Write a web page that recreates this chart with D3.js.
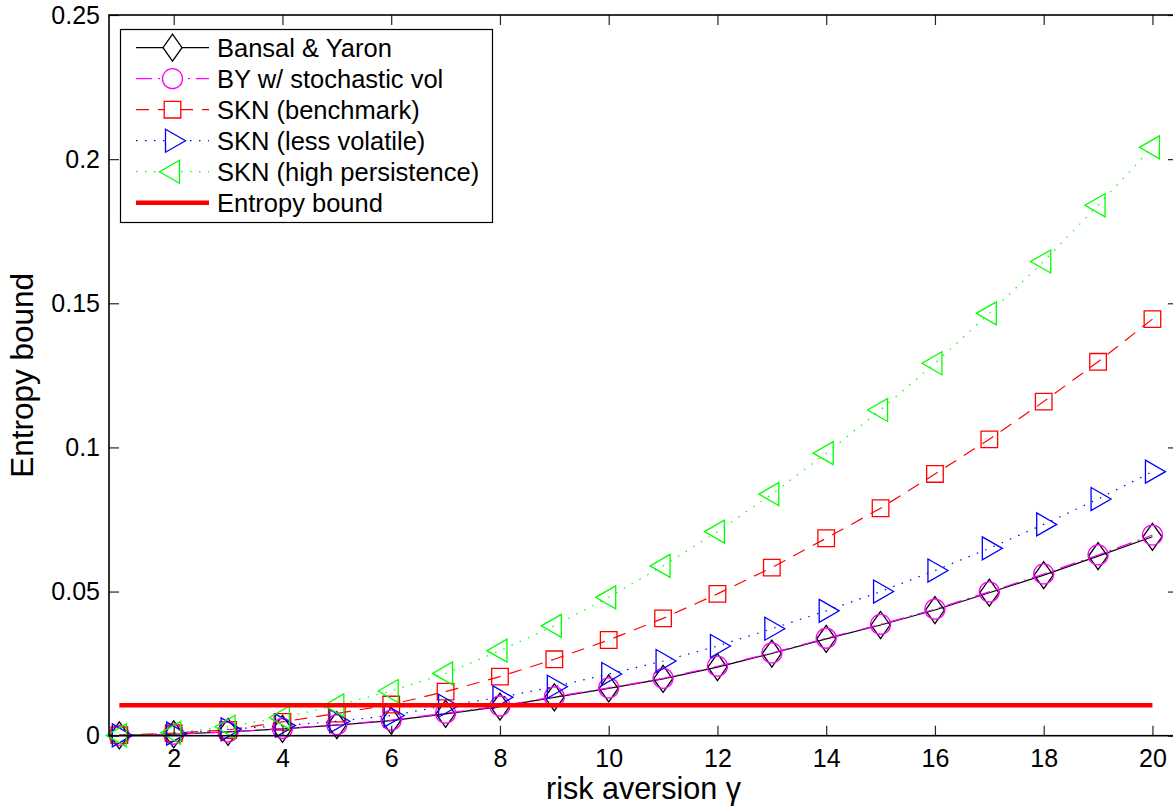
<!DOCTYPE html>
<html>
<head>
<meta charset="utf-8">
<script src="https://cdn.jsdelivr.net/npm/d3@7"></script>
<style>
  body { margin: 0; background: #fff; }
  svg { display: block; font-family: "Liberation Sans", Arial, Helvetica, sans-serif; }
</style>
</head>
<body>
<script>
var width = 1173;
var height = 808;

// risk aversion gamma
var gammas = [1, 2, 3, 4, 5, 6, 7, 8, 9, 10, 11, 12, 13, 14, 15, 16, 17, 18, 19, 20];

var bansalYaron = [0.0001, 0.0005, 0.0013, 0.0024, 0.0037, 0.0052, 0.0076, 0.0101, 0.0133, 0.0164,
                   0.0197, 0.0238, 0.0285, 0.0336, 0.0384, 0.0436, 0.0496, 0.0557, 0.0623, 0.0690];
var byStochVol = [0.0001, 0.0005, 0.0013, 0.0025, 0.0038, 0.0054, 0.0078, 0.0103, 0.0135, 0.0166,
                  0.0199, 0.0241, 0.0287, 0.0338, 0.0386, 0.0439, 0.0499, 0.0561, 0.0627, 0.0696];
var sknBenchmark = [0.0002, 0.0009, 0.0020, 0.0048, 0.0077, 0.0108, 0.0153, 0.0205, 0.0265, 0.0332,
                    0.0407, 0.0492, 0.0583, 0.0685, 0.0789, 0.0908, 0.1028, 0.1159, 0.1297, 0.1445];
var sknLessVol = [0.0001, 0.0007, 0.0022, 0.0035, 0.0050, 0.0070, 0.0104, 0.0133, 0.0170, 0.0214,
                  0.0259, 0.0311, 0.0371, 0.0433, 0.0500, 0.0573, 0.0650, 0.0733, 0.0821, 0.0916];
var sknHighPers = [0.0001, 0.0010, 0.0031, 0.0063, 0.0105, 0.0155, 0.0216, 0.0295, 0.0381, 0.0480,
                   0.0589, 0.0708, 0.0838, 0.0980, 0.1130, 0.1292, 0.1465, 0.1645, 0.1840, 0.2041];
var entropyBound = 0.0106;

var seriesNames = ['Bansal & Yaron', 'BY w/ stochastic vol', 'SKN (benchmark)',
                   'SKN (less volatile)', 'SKN (high persistence)', 'Entropy bound'];

var xTicks = [2, 4, 6, 8, 10, 12, 14, 16, 18, 20];
var yTicks = [0, 0.05, 0.1, 0.15, 0.2, 0.25];
var yTickLabels = ['0', '0.05', '0.1', '0.15', '0.2', '0.25'];

// marker shapes
function diamond() { return 'M0,-13.5L9.5,0L0,13.5L-9.5,0Z'; }
function circle() { return 'M10,0A10,10 0 1,1 -10,0A10,10 0 1,1 10,0Z'; }
function square() { return 'M-8.3,-8.3H8.3V8.3H-8.3Z'; }
function triRight() { return 'M-7,-11.5L13,0L-7,11.5Z'; }
function triLeft() { return 'M7,-11.5L-13,0L7,11.5Z'; }

var series = [
  { name: seriesNames[0], values: bansalYaron, color: '#000000', dash: null, marker: diamond },
  { name: seriesNames[1], values: byStochVol, color: '#ff00ff', dash: '16,6,2,6', marker: circle },
  { name: seriesNames[2], values: sknBenchmark, color: '#ff0000', dash: '13,9', marker: square },
  { name: seriesNames[3], values: sknLessVol, color: '#0000ff', dash: '1.5,7.5', marker: triRight },
  { name: seriesNames[4], values: sknHighPers, color: '#00ff00', dash: '1.5,7.5', marker: triLeft }
];

var x = d3.scaleLinear().domain([0.81, 20.47]).range([109, 1178]);
var y = d3.scaleLinear().domain([0, 0.25]).range([735.7, 15]);

var svg = d3.select('body')
            .append('svg')
            .attr('width', width)
            .attr('height', height);

var line = d3.line()
             .x(function(d, i){ return x(gammas[i]); })
             .y(function(d){ return y(d); });

var plots = svg.selectAll('g.series')
               .data(series)
               .enter()
               .append('g')
               .attr('class', 'series');

plots.append('path')
     .attr('d', function(d){ return line(d.values); })
     .attr('fill', 'none')
     .attr('stroke', function(d){ return d.color; })
     .attr('stroke-width', 1.2)
     .attr('stroke-dasharray', function(d){ return d.dash; });

plots.each(function(s){
  d3.select(this).selectAll('path.mk')
    .data(s.values)
    .enter()
    .append('path')
    .attr('class', 'mk')
    .attr('d', s.marker)
    .attr('transform', function(d, i){ return 'translate(' + x(gammas[i]) + ',' + y(d) + ')'; })
    .attr('fill', 'none')
    .attr('stroke', s.color)
    .attr('stroke-width', 1.3);
});

svg.append('line')
   .attr('x1', x(gammas[0]))
   .attr('x2', x(gammas[gammas.length - 1]))
   .attr('y1', y(entropyBound))
   .attr('y2', y(entropyBound))
   .attr('stroke', '#ff0000')
   .attr('stroke-width', 4.5);

// axes, ticks pointing inwards on all four sides
var x0 = x.range()[0], x1 = x.range()[1];
var y0 = y.range()[0], y1 = y.range()[1];

svg.append('g')
   .attr('transform', 'translate(0,' + y0 + ')')
   .call(d3.axisBottom(x).tickValues(xTicks).tickSizeInner(-10).tickSizeOuter(0).tickPadding(14));
svg.append('g')
   .attr('transform', 'translate(0,' + y1 + ')')
   .call(d3.axisTop(x).tickValues(xTicks).tickSizeInner(-10).tickSizeOuter(0).tickFormat(''));
svg.append('g')
   .attr('transform', 'translate(' + x0 + ',0)')
   .call(d3.axisLeft(y).tickValues(yTicks).tickSizeInner(-10).tickSizeOuter(0).tickPadding(9)
           .tickFormat(function(d, i){ return yTickLabels[i]; }));
svg.append('g')
   .attr('transform', 'translate(' + x1 + ',0)')
   .call(d3.axisRight(y).tickValues(yTicks).tickSizeInner(-10).tickSizeOuter(0).tickFormat(''));

svg.selectAll('.domain').remove();
svg.selectAll('.tick line').attr('stroke', '#262626').attr('stroke-width', 1.2);
svg.selectAll('.tick text')
   .attr('font-size', 25)
   .attr('font-family', '"Liberation Sans", Arial, Helvetica, sans-serif')
   .attr('fill', '#000');

svg.append('rect')
   .attr('x', x0)
   .attr('y', y1)
   .attr('width', x1 - x0)
   .attr('height', y0 - y1)
   .attr('fill', 'none')
   .attr('stroke', '#000')
   .attr('stroke-width', 1.6);

svg.append('text')
   .attr('x', (x0 + x1) / 2)
   .attr('y', 799)
   .attr('text-anchor', 'middle')
   .attr('font-size', 30.5)
   .text('risk aversion γ');

svg.append('text')
   .attr('transform', 'translate(33,' + (y0 + y1) / 2 + ') rotate(-90)')
   .attr('text-anchor', 'middle')
   .attr('font-size', 31.5)
   .text('Entropy bound');

// legend
var legend = svg.append('g');
legend.append('rect')
      .attr('x', 120.5)
      .attr('y', 29.5)
      .attr('width', 372)
      .attr('height', 193)
      .attr('fill', '#fff')
      .attr('stroke', '#000')
      .attr('stroke-width', 1.2);

var rows = legend.selectAll('g.row')
                 .data(seriesNames)
                 .enter()
                 .append('g')
                 .attr('class', 'row')
                 .attr('transform', function(d, i){ return 'translate(0,' + (47.7 + i * 31) + ')'; });

rows.append('line')
    .attr('x1', 136)
    .attr('x2', 209)
    .attr('stroke', function(d, i){ return i < series.length ? series[i].color : '#ff0000'; })
    .attr('stroke-width', function(d, i){ return i < series.length ? 1.2 : 4.5; })
    .attr('stroke-dasharray', function(d, i){ return i < series.length ? series[i].dash : null; });

rows.filter(function(d, i){ return i < series.length; })
    .append('path')
    .attr('transform', 'translate(172.5,0)')
    .attr('d', function(d, i){ return series[i].marker(); })
    .attr('fill', '#fff')
    .attr('stroke', function(d, i){ return series[i].color; })
    .attr('stroke-width', 1.3);

rows.append('text')
    .attr('x', 217)
    .attr('y', 8.9)
    .attr('font-size', 25.5)
    .text(function(d){ return d; });
</script>
</body>
</html>
